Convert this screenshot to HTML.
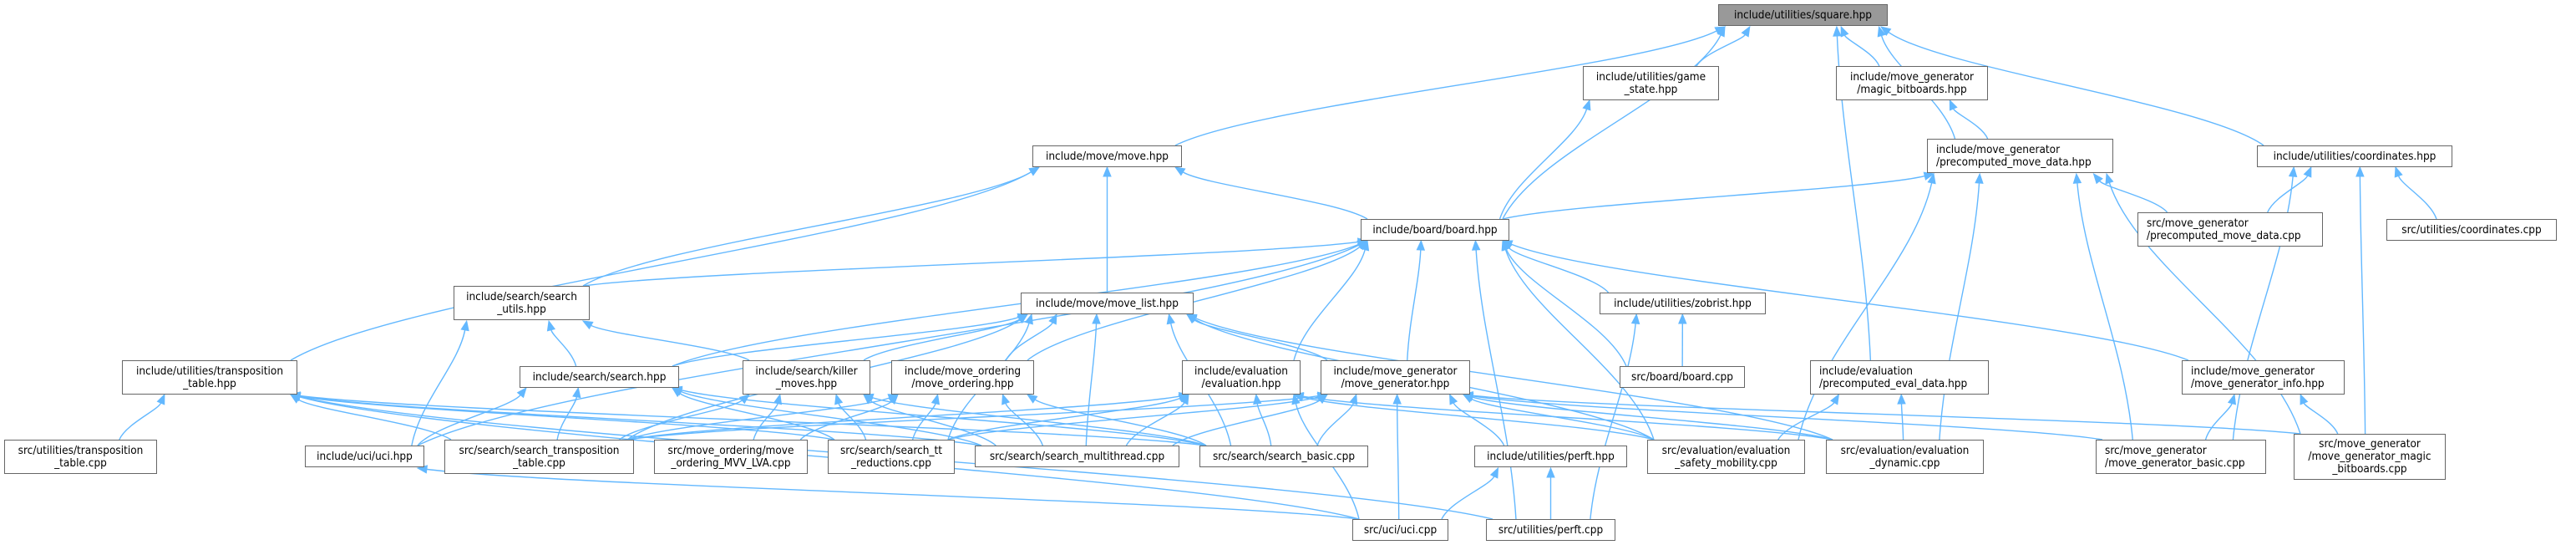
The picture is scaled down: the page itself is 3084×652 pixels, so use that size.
<!DOCTYPE html>
<html><head><meta charset="utf-8"><style>
html,body{margin:0;padding:0;background:#fff;}
#c{position:relative;width:3084px;height:652px;overflow:hidden;}
svg{position:absolute;left:0;top:0;}
.n{position:absolute;box-sizing:border-box;border:1.5px solid #666;background:#fff;font-family:"DejaVu Sans Condensed","Liberation Sans",sans-serif;font-size:13.5px;line-height:14.7px;color:#000;display:flex;flex-direction:column;justify-content:center;align-items:center;text-align:center;white-space:nowrap;}
.n.l{align-items:flex-start;padding-left:10px;text-align:left;}
.root{background:#999;}
</style></head><body><div id="c">
<svg id="s" width="3084" height="652"></svg>
<div class="n root" style="left:2057px;top:5px;width:203px;height:26px">include/utilities/square.hpp</div>
<div class="n" style="left:1236px;top:174px;width:179px;height:26px">include/move/move.hpp</div>
<div class="n" style="left:1895px;top:79px;width:163px;height:41px"><span>include/utilities/game</span><span>_state.hpp</span></div>
<div class="n" style="left:2198px;top:79px;width:182px;height:41px"><span>include/move_generator</span><span>/magic_bitboards.hpp</span></div>
<div class="n l" style="left:2307px;top:166px;width:223px;height:41px"><span>include/move_generator</span><span>/precomputed_move_data.hpp</span></div>
<div class="n" style="left:2702px;top:174px;width:234px;height:26px">include/utilities/coordinates.hpp</div>
<div class="n" style="left:1629px;top:262px;width:178px;height:26px">include/board/board.hpp</div>
<div class="n l" style="left:2559px;top:254px;width:222px;height:41px"><span>src/move_generator</span><span>/precomputed_move_data.cpp</span></div>
<div class="n" style="left:2857px;top:262px;width:204px;height:26px">src/utilities/coordinates.cpp</div>
<div class="n" style="left:543px;top:342px;width:163px;height:41px"><span>include/search/search</span><span>_utils.hpp</span></div>
<div class="n" style="left:1222px;top:350px;width:207px;height:26px">include/move/move_list.hpp</div>
<div class="n" style="left:1915px;top:350px;width:199px;height:26px">include/utilities/zobrist.hpp</div>
<div class="n" style="left:146px;top:431px;width:210px;height:41px"><span>include/utilities/transposition</span><span>_table.hpp</span></div>
<div class="n" style="left:622px;top:438px;width:191px;height:26px">include/search/search.hpp</div>
<div class="n" style="left:889px;top:431px;width:153px;height:41px"><span>include/search/killer</span><span>_moves.hpp</span></div>
<div class="n" style="left:1067px;top:431px;width:171px;height:41px"><span>include/move_ordering</span><span>/move_ordering.hpp</span></div>
<div class="n" style="left:1415px;top:431px;width:142px;height:41px"><span>include/evaluation</span><span>/evaluation.hpp</span></div>
<div class="n" style="left:1581px;top:431px;width:179px;height:41px"><span>include/move_generator</span><span>/move_generator.hpp</span></div>
<div class="n" style="left:1939px;top:438px;width:150px;height:26px">src/board/board.cpp</div>
<div class="n l" style="left:2167px;top:431px;width:214px;height:41px"><span>include/evaluation</span><span>/precomputed_eval_data.hpp</span></div>
<div class="n l" style="left:2612px;top:431px;width:195px;height:41px"><span>include/move_generator</span><span>/move_generator_info.hpp</span></div>
<div class="n" style="left:5px;top:526px;width:183px;height:41px"><span>src/utilities/transposition</span><span>_table.cpp</span></div>
<div class="n" style="left:365px;top:533px;width:143px;height:26px">include/uci/uci.hpp</div>
<div class="n" style="left:532px;top:526px;width:227px;height:41px"><span>src/search/search_transposition</span><span>_table.cpp</span></div>
<div class="n" style="left:783px;top:526px;width:184px;height:41px"><span>src/move_ordering/move</span><span>_ordering_MVV_LVA.cpp</span></div>
<div class="n" style="left:991px;top:526px;width:152px;height:41px"><span>src/search/search_tt</span><span>_reductions.cpp</span></div>
<div class="n" style="left:1167px;top:533px;width:245px;height:26px">src/search/search_multithread.cpp</div>
<div class="n" style="left:1436px;top:533px;width:202px;height:26px">src/search/search_basic.cpp</div>
<div class="n" style="left:1765px;top:533px;width:183px;height:26px">include/utilities/perft.hpp</div>
<div class="n" style="left:1972px;top:526px;width:189px;height:41px"><span>src/evaluation/evaluation</span><span>_safety_mobility.cpp</span></div>
<div class="n" style="left:2186px;top:526px;width:189px;height:41px"><span>src/evaluation/evaluation</span><span>_dynamic.cpp</span></div>
<div class="n l" style="left:2509px;top:526px;width:204px;height:41px"><span>src/move_generator</span><span>/move_generator_basic.cpp</span></div>
<div class="n" style="left:2746px;top:519px;width:182px;height:55px"><span>src/move_generator</span><span>/move_generator_magic</span><span>_bitboards.cpp</span></div>
<div class="n" style="left:1619px;top:621px;width:115px;height:26px">src/uci/uci.cpp</div>
<div class="n" style="left:1779px;top:621px;width:155px;height:26px">src/utilities/perft.cpp</div>
</div>
<script>
var N={sq:[2057,2260,5,31],move:[1236,1415,174,199],gs:[1895,2058,79,119],mb:[2198,2380,79,119],pmd:[2307,2530,166,207],coord:[2702,2936,174,199],board:[1629,1807,262,287],pmdcpp:[2559,2781,254,295],coordcpp:[2857,3061,262,287],su:[543,706,342,383],ml:[1222,1429,350,375],zob:[1915,2114,350,375],tt:[146,356,431,471],search:[622,813,438,463],killer:[889,1042,431,471],mo:[1067,1238,431,471],eval:[1415,1557,431,471],mg:[1581,1760,431,471],bcpp:[1939,2089,438,463],ped:[2167,2381,431,471],mgi:[2612,2807,431,471],ttcpp:[5,188,526,566],uci:[365,508,533,559],stt:[532,759,526,566],mvv:[783,967,526,566],sttr:[991,1143,526,566],smt:[1167,1412,533,559],sb:[1436,1638,533,559],perfth:[1765,1948,533,559],esm:[1972,2161,526,566],edyn:[2186,2375,526,566],mgb:[2509,2713,526,566],mgm:[2746,2928,519,573],ucicpp:[1619,1734,621,647],perftcpp:[1779,1934,621,647]};
var E={sq:['move','gs','board','mb','pmd','ped','coord'],move:['board','ml','su','tt'],gs:['board'],mb:['pmd'],pmd:['board','esm','edyn','pmdcpp','mgb','mgm'],coord:['pmdcpp','mgb','coordcpp','mgm'],board:['su','uci','search','mo','eval','mg','zob','bcpp','mgi','perftcpp','esm'],ml:['search','mo','mg','stt','sttr','smt','sb','esm','edyn','killer'],su:['search','uci','killer'],search:['uci','stt','sttr','smt','sb'],tt:['ttcpp','stt','ucicpp','perftcpp','sttr','smt','sb'],killer:['mvv','stt','sttr','smt','sb'],mo:['mvv','stt','sttr','smt','sb'],eval:['stt','sttr','smt','sb','edyn','ucicpp','esm'],mg:['sttr','smt','sb','ucicpp','perfth','esm','edyn','mgb','mgm','stt'],zob:['bcpp','perftcpp'],ped:['esm','edyn'],mgi:['mgb','mgm'],perfth:['ucicpp','perftcpp'],uci:['ucicpp']};
var s='',col='#63b8ff';
function cl(v,a,b){return Math.max(a,Math.min(b,v));}
for(var p in E){E[p].forEach(function(c){var P=N[p],C=N[c];
var pc=(P[0]+P[1])/2,cc=(C[0]+C[1])/2;
var sx=cl(cc+(pc-cc)*0.3,C[0]+8,C[1]-8),sy=C[2];
var ex=cl(pc+(cc-pc)*0.35,P[0]+8,P[1]-8),ey=P[3]+1;
var dy=sy-ey;
var c1x=sx+(ex-sx)*0.15,c1y=sy-dy*0.35,c2x=ex+(sx-ex)*0.15,c2y=ey+dy*0.35;
var ax=ex-c2x,ay=ey-c2y,L=Math.hypot(ax,ay);ax/=L;ay/=L;
var bx=ex-ax*11,by=ey-ay*11;
s+='<path d="M'+sx+','+sy+' C'+c1x+','+c1y+' '+c2x+','+c2y+' '+bx+','+by+'" fill="none" stroke="'+col+'" stroke-width="1.4"/>';
s+='<polygon points="'+ex+','+ey+' '+(bx-ay*4.5)+','+(by+ax*4.5)+' '+(bx+ay*4.5)+','+(by-ax*4.5)+'" fill="'+col+'" stroke="'+col+'"/>';
});}
document.getElementById('s').innerHTML=s;
</script>
</body></html>
